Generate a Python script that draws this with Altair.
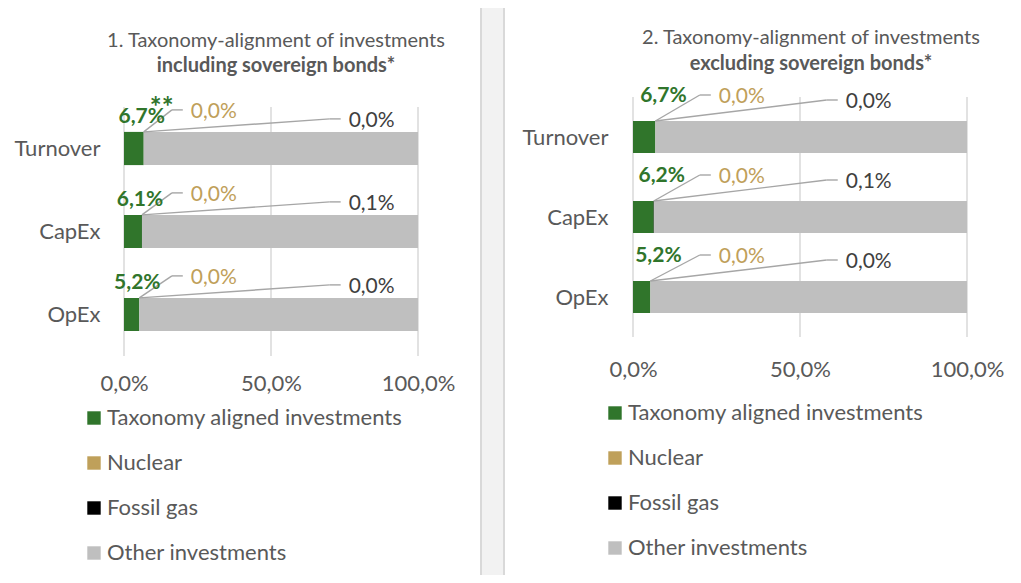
import json
import altair as alt
import pandas as pd

# ---------------- data ----------------
categories = ["Turnover", "CapEx", "OpEx"]
series = ["Taxonomy aligned investments", "Nuclear", "Fossil gas", "Other investments"]
series_colors = ["#30752b", "#bfa05a", "#000000", "#bfbfbf"]

incl_taxonomy = [6.7, 6.1, 5.2]
incl_nuclear = [0.0, 0.0, 0.0]
incl_fossil = [0.0, 0.1, 0.0]
incl_other = [93.3, 93.8, 94.8]
incl_notes = ["**", "", ""]

excl_taxonomy = [6.7, 6.2, 5.2]
excl_nuclear = [0.0, 0.0, 0.0]
excl_fossil = [0.0, 0.1, 0.0]
excl_other = [93.3, 93.7, 94.8]
excl_notes = ["", "", ""]

x_ticks = [0, 50, 100]

incl_title = ["1. Taxonomy-alignment of investments", "including sovereign bonds*"]
excl_title = ["2. Taxonomy-alignment of investments", "excluding sovereign bonds*"]

# ---------------- style ----------------
FONT = "Lato"
TXT = "#595959"
GREEN = series_colors[0]
GOLD = "#bfa05a"
DARK = "#404040"
LEAD = "#a6a6a6"
GRID = "#d9d9d9"
FS = 21
FS_BIG = 22

LEFT = dict(xr=[116, 410], yr=[99, 348], step=83, xoff=-219, xpad=17, yoff=-100,
            nuc_ex=16.3, nuc_dy=22, fos_ex=70.0, fos_dy=13, hlen=3.7,
            g_dx=-2, g_dy=-15, n_dx=18, n_dy=-23,
            lx=75, ly=399, bg=(-1, 473, -1, 590), tx=268, ty=(33, 58))
RIGHT = dict(xr=[625, 959], yr=[89, 329], step=80, xoff=-238, xpad=22, yoff=-608,
             nuc_ex=20.0, nuc_dy=26, fos_ex=58.0, fos_dy=21, hlen=3.3,
             g_dx=8, g_dy=-25, n_dx=18, n_dy=-23,
             lx=596, ly=394, bg=(496, 1020, -1, 573), tx=803, ty=(30, 56))


def fmt(v):
    return f"{v:.1f}".replace(".", ",") + "%"


def panel(tax, nuc, fos, oth, notes, lay, title):
    rows = []
    for i, cat in enumerate(categories):
        cum = 0.0
        for j, vals in enumerate([tax, nuc, fos, oth]):
            v = vals[i]
            rows.append({"cat": cat, "idx": i, "series": series[j], "order": j,
                         "value": v, "x0": cum, "x1": cum + v, "label": fmt(v),
                         "note": notes[i] if j == 0 else ""})
            cum += v
    df = pd.DataFrame(rows)

    sx = alt.Scale(domain=[0, 100], range=lay["xr"], nice=False, zero=False)
    sy = alt.Scale(domain=[-0.5, 2.5], range=lay["yr"], nice=False, zero=False)
    ax = alt.Axis(orient="bottom", offset=lay["xoff"], values=x_ticks,
                  labelExpr="replace(format(datum.value, '.1f'), '.', ',') + '%'",
                  domain=False, ticks=False, grid=False, labelPadding=lay["xpad"],
                  labelFontSize=FS_BIG, labelColor=TXT, labelFont=FONT, title=None,
                  labelFlush=False, labelOverlap=False, zindex=2)
    ay = alt.Axis(orient="left", offset=lay["yoff"], values=[0, 1, 2],
                  labelExpr=json.dumps(categories) + "[datum.value]",
                  domain=False, ticks=False, grid=False, labelPadding=8,
                  labelFontSize=FS_BIG, labelColor=TXT, labelFont=FONT, title=None,
                  zindex=2)

    def X(f):
        return alt.X(f, type="quantitative", scale=sx, axis=ax)

    def Y(f):
        return alt.Y(f, type="quantitative", scale=sy, axis=ay)

    base = alt.Chart(df).transform_calculate(
        ty="datum.idx - 0.2", by="datum.idx + 0.2",
        mid="(datum.x0 + datum.x1) / 2",
        ex=f"datum.series == 'Nuclear' ? {lay['nuc_ex']} : {lay['fos_ex']}",
        ey=f"datum.idx - 0.2 - (datum.series == 'Nuclear' ? {lay['nuc_dy']} : {lay['fos_dy']}) / {lay['step']}",
    ).transform_calculate(hx=f"datum.ex + {lay['hlen']}")

    grid = alt.Chart(pd.DataFrame({"v": x_ticks})).mark_rule(
        color=GRID, strokeWidth=1.5).encode(
        x=X("v"),
        y=alt.Y(datum=-0.5, type="quantitative", scale=sy, axis=ay),
        y2=alt.Y2(datum=2.5))

    bars = base.mark_bar(strokeWidth=0).encode(
        x=X("x0"), x2="x1", y=Y("ty"), y2="by",
        color=alt.Color("series:N", scale=alt.Scale(domain=series, range=series_colors),
                        legend=alt.Legend(orient="none", legendX=lay["lx"], legendY=lay["ly"],
                                          title=None, symbolType="square", symbolSize=180,
                                          symbolStrokeWidth=0, labelFontSize=FS_BIG,
                                          labelColor=TXT, labelFont=FONT, rowPadding=23,
                                          labelOffset=2, padding=0, direction="vertical",
                                          labelLimit=500, zindex=2)),
        order=alt.Order("order:Q"))

    leaders = base.transform_filter("datum.series == 'Nuclear' || datum.series == 'Fossil gas'")
    diag = leaders.mark_rule(color=LEAD, strokeWidth=1.4).encode(
        x=X("mid"), x2="ex", y=Y("ty"), y2="ey")
    horiz = leaders.mark_rule(color=LEAD, strokeWidth=1.4).encode(
        x=X("ex"), x2="hx", y=Y("ey"))
    nuc_lab = base.transform_filter("datum.series == 'Nuclear'").mark_text(
        align="left", baseline="middle", dx=8, dy=2, font=FONT, fontSize=FS, color=GOLD
    ).encode(x=X("hx"), y=Y("ey"), text="label:N")
    fos_lab = base.transform_filter("datum.series == 'Fossil gas'").mark_text(
        align="left", baseline="middle", dx=8, dy=2, font=FONT, fontSize=FS, color=DARK
    ).encode(x=X("hx"), y=Y("ey"), text="label:N")
    green = base.transform_filter("datum.order == 0")
    tax_lab = green.mark_text(
        align="center", baseline="middle", dx=lay["g_dx"], dy=lay["g_dy"], font=FONT,
        fontSize=FS, fontWeight="bold", color=GREEN
    ).encode(x=X("x1"), y=Y("ty"), text="label:N")
    note_lab = green.mark_text(
        align="center", baseline="middle", dx=lay["n_dx"], dy=lay["n_dy"], font=FONT,
        fontSize=28, fontWeight="bold", color=GREEN
    ).encode(x=X("x1"), y=Y("ty"), text="note:N")

    t1 = alt.Chart(pd.DataFrame({"t": [title[0]]})).mark_text(
        align="center", baseline="middle", font=FONT, fontSize=20, color=TXT
    ).encode(x=alt.value(lay["tx"]), y=alt.value(lay["ty"][0]), text="t:N")
    t2 = alt.Chart(pd.DataFrame({"t": [title[1]]})).mark_text(
        align="center", baseline="middle", font=FONT, fontSize=20, fontWeight="bold", color=TXT
    ).encode(x=alt.value(lay["tx"]), y=alt.value(lay["ty"][1]), text="t:N")

    return alt.layer(grid, bars, diag, horiz, nuc_lab, fos_lab, tax_lab, note_lab, t1, t2)


def bg(lay):
    x0, x1, y0, y1 = lay["bg"]
    return alt.Chart(pd.DataFrame({"p": [0]})).mark_rect(
        fill="white", stroke="#d9d9d9", strokeWidth=2).encode(
        x=alt.value(x0), x2=alt.value(x1), y=alt.value(y0), y2=alt.value(y1))


left = panel(incl_taxonomy, incl_nuclear, incl_fossil, incl_other, incl_notes, LEFT, incl_title)
right = panel(excl_taxonomy, excl_nuclear, excl_fossil, excl_other, excl_notes, RIGHT, excl_title)

chart = alt.layer(bg(LEFT), bg(RIGHT), left, right).resolve_scale(
    x="independent", y="independent", color="independent"
).properties(
    width=1005, height=567, padding=0,
    autosize=alt.AutoSizeParams(type="none"),
    background="#f2f2f2",
).configure_view(stroke=None)

chart.save("out.html", embed_options={"renderer": "svg", "actions": False})
